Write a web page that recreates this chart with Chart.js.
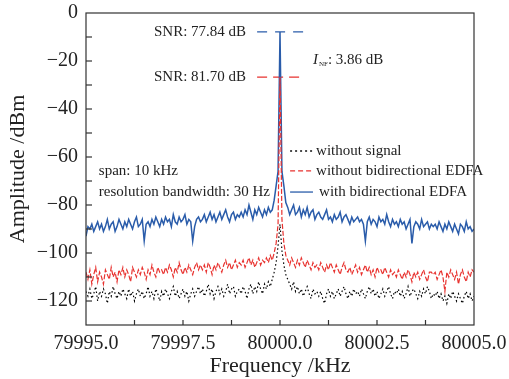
<!DOCTYPE html>
<html>
<head>
<meta charset="utf-8">
<script src="https://cdn.jsdelivr.net/npm/chart.js@4.4.1/dist/chart.umd.min.js"></script>
<style>
html, body { margin: 0; padding: 0; background: #fff; }
#wrap { width: 509px; height: 379px; }
</style>
</head>
<body>
<div id="wrap"><canvas id="myChart"></canvas></div>
<script>
// sweep grid: 79995.00 ... 80005.00 kHz, 0.05 kHz per sample
var fStart = 79995.0, fStep = 0.05;

var noSignal = [
  -116, -118, -115, -119, -117, -114, -120, -116, -118, -115, -117, -121, -116, -118, -114, -117, -119, -116, -118, -115,
  -117, -119, -115, -118, -116, -120, -117, -115, -118, -116, -119, -117, -114, -118, -116, -119, -115, -117, -120, -116,
  -118, -115, -117, -119, -116, -114, -118, -116, -119, -117, -115, -118, -116, -120, -117, -115, -118, -116, -114, -117,
  -115, -118, -116, -113, -117, -115, -119, -116, -114, -117, -115, -118, -116, -113, -117, -115, -114, -118, -116, -115,
  -117, -114, -116, -119, -115, -113, -117, -114, -116, -112, -115, -117, -113, -115, -112, -114, -111, -108, -104, -97,
  -88, -99, -105, -109, -111, -113, -115, -112, -116, -114, -117, -115, -118, -116, -114, -117, -119, -115, -117, -116,
  -118, -116, -119, -121, -117, -115, -118, -116, -119, -117, -115, -118, -116, -114, -117, -119, -116, -118, -115, -117,
  -116, -118, -115, -117, -119, -116, -114, -117, -115, -118, -116, -119, -117, -115, -118, -116, -114, -117, -119, -116,
  -117, -115, -118, -116, -119, -117, -114, -118, -116, -115, -117, -119, -116, -118, -115, -117, -114, -116, -119, -117,
  -118, -116, -119, -117, -120, -118, -121, -117, -119, -116, -118, -120, -117, -119, -121, -118, -116, -119, -117, -120,
  -118
];

var withoutEdfa = [
  -108, -111, -107, -113, -109, -106, -112, -108, -110, -113, -107, -109, -111, -106, -110, -108, -112, -107, -109, -106,
  -110, -107, -109, -112, -106, -108, -110, -107, -109, -106, -108, -111, -107, -109, -105, -108, -110, -106, -108, -107,
  -109, -106, -108, -105, -107, -110, -106, -108, -104, -107, -109, -106, -108, -105, -107, -109, -106, -104, -107, -105,
  -107, -105, -108, -104, -106, -109, -105, -107, -104, -106, -108, -105, -103, -106, -104, -107, -105, -103, -106, -104,
  -105, -103, -106, -104, -102, -105, -103, -106, -104, -102, -105, -103, -104, -102, -104, -101, -103, -100, -96, -88,
  -26.7, -86, -96, -101, -103, -105, -102, -104, -106, -103, -105, -102, -104, -106, -103, -105, -107, -104, -106, -105,
  -107, -104, -106, -108, -105, -107, -104, -106, -108, -105, -107, -109, -106, -104, -107, -108, -106, -109, -107, -105,
  -108, -106, -109, -107, -105, -108, -106, -109, -107, -110, -106, -108, -107, -109, -106, -108, -110, -107, -109, -108,
  -110, -107, -109, -111, -108, -110, -107, -109, -112, -108, -110, -108, -111, -109, -107, -110, -112, -108, -108, -109,
  -108, -111, -109, -107, -110, -116, -108, -110, -107, -109, -111, -108, -113, -109, -107, -110, -112, -108, -110, -107,
  -108
];

var withEdfa = [
  -93, -89, -90, -88, -91, -89, -87, -90, -88, -91, -89, -86, -90, -88, -87, -91, -89, -86, -88, -90,
  -87, -89, -86, -88, -90, -87, -85, -89, -88, -86, -95, -88, -87, -89, -86, -88, -85, -87, -89, -86,
  -88, -85, -87, -86, -89, -84, -87, -88, -85, -87, -86, -84, -88, -86, -87, -95, -89, -86, -85, -87,
  -86, -84, -87, -85, -83, -86, -84, -87, -85, -83, -86, -84, -82, -85, -87, -84, -83, -86, -84, -85,
  -83, -85, -82, -84, -80, -83, -86, -82, -84, -81, -83, -85, -82, -84, -81, -83, -82, -78, -72, -66,
  -7.9, -66, -72, -79, -81, -84, -82, -80, -84, -83, -81, -85, -82, -84, -81, -85, -83, -82, -86, -84,
  -83, -85, -86, -84, -82, -86, -85, -87, -84, -86, -85, -83, -87, -85, -84, -86, -88, -85, -87, -86,
  -85, -87, -86, -88, -95, -87, -85, -88, -86, -87, -89, -85, -87, -86, -88, -84, -87, -89, -86, -88,
  -87, -89, -86, -88, -87, -90, -88, -86, -96, -89, -87, -88, -90, -86, -89, -88, -87, -90, -88, -89,
  -88, -90, -87, -89, -91, -88, -90, -87, -89, -91, -88, -90, -92, -88, -89, -91, -87, -90, -89, -91,
  -90
];

// SNR reference marks
var snrLineX = [79999.41, 80000.64];
var snrWith = -7.9;
var snrWithout = -26.7;

var serif = '"Liberation Serif", "Times New Roman", serif';
var blue = '#2a5caa';
var red = '#e8322f';

function toPoints(vals) {
  return vals.map(function (v, i) { return { x: fStart + i * fStep, y: v }; });
}
function flat(y) {
  return snrLineX.map(function (x) { return { x: x, y: y }; });
}

var overlay = {
  id: 'overlay',
  afterDraw: function (chart) {
    var c = chart.ctx, a = chart.chartArea, xs = chart.scales.x, ys = chart.scales.y;
    function seg(x1, y1, x2, y2) { c.beginPath(); c.moveTo(x1, y1); c.lineTo(x2, y2); c.stroke(); }
    c.save();
    c.strokeStyle = '#333';
    c.lineWidth = 1.2;
    c.strokeRect(a.left, a.top, a.right - a.left, a.bottom - a.top);
    for (var v = -10; v > -130; v -= 10) {
      var py = ys.getPixelForValue(v);
      seg(a.left, py, a.left + 6, py);
    }
    for (var f = 79996.25; f < 80005; f += 1.25) {
      var px = xs.getPixelForValue(f);
      seg(px, a.bottom, px, a.bottom - 5);
    }

    c.fillStyle = '#222';
    c.font = '15px ' + serif;
    c.textBaseline = 'middle';
    c.textAlign = 'right';
    var lx = xs.getPixelForValue(snrLineX[0]) - 11;
    c.fillText('SNR: 77.84 dB', lx, ys.getPixelForValue(snrWith));
    c.fillText('SNR: 81.70 dB', lx, ys.getPixelForValue(snrWithout));

    c.textAlign = 'left';
    var ix = xs.getPixelForValue(80000.85), iy = ys.getPixelForValue(-19.6);
    c.font = 'italic 15px ' + serif;
    c.fillText('I', ix, iy);
    var w = c.measureText('I').width;
    c.font = '7px ' + serif;
    c.fillText('NF', ix + w + 1, iy + 4);
    var w2 = c.measureText('NF').width;
    c.font = '15px ' + serif;
    c.fillText(': 3.86 dB', ix + w + w2 + 1, iy);

    var sx = xs.getPixelForValue(79995.33);
    c.fillText('span: 10 kHz', sx, ys.getPixelForValue(-65.8));
    c.fillText('resolution bandwidth: 30 Hz', sx, ys.getPixelForValue(-74.6));

    // legend
    var x1 = xs.getPixelForValue(80000.26), x2 = xs.getPixelForValue(80000.85);
    var tx = xs.getPixelForValue(80000.93);
    var rows = [
      { y: -57.5, color: '#111', dash: [2, 3], text: 'without signal', dx: 0 },
      { y: -65.8, color: red, dash: [5, 3], text: 'without bidirectional EDFA', dx: 0 },
      { y: -74.6, color: blue, dash: [], text: 'with bidirectional EDFA', dx: 3 }
    ];
    rows.forEach(function (r) {
      var py = ys.getPixelForValue(r.y);
      c.strokeStyle = r.color;
      c.lineWidth = 1.3;
      c.setLineDash(r.dash);
      seg(x1, py, x2, py);
      c.setLineDash([]);
      c.fillStyle = '#222';
      c.fillText(r.text, tx + r.dx, py);
    });
    c.restore();
  }
};

var ctx = document.getElementById('myChart').getContext('2d');
var myChart = new Chart(ctx, {
  type: 'line',
  data: {
    datasets: [
      { label: 'without signal', data: toPoints(noSignal), borderColor: '#000', borderWidth: 1.2, borderDash: [1.5, 2.5] },
      { label: 'without bidirectional EDFA', data: toPoints(withoutEdfa), borderColor: red, borderWidth: 1.2, borderDash: [5, 2] },
      { label: 'with bidirectional EDFA', data: toPoints(withEdfa), borderColor: blue, borderWidth: 1.5 },
      { label: 'snr with', data: flat(snrWith), borderColor: blue, borderWidth: 1.3, borderDash: [10, 8] },
      { label: 'snr without', data: flat(snrWithout), borderColor: red, borderWidth: 1.3, borderDash: [10, 6] }
    ]
  },
  options: {
    responsive: true,
    maintainAspectRatio: false,
    animation: false,
    layout: { padding: { top: 13, right: 35, left: 0, bottom: 0 } },
    elements: { point: { radius: 0 }, line: { tension: 0 } },
    plugins: { legend: { display: false }, tooltip: { enabled: false } },
    scales: {
      x: {
        type: 'linear',
        min: 79995,
        max: 80005,
        grid: { display: false, drawTicks: false },
        border: { display: false },
        ticks: {
          stepSize: 2.5,
          padding: 7,
          color: '#222',
          font: { family: serif, size: 20 },
          maxRotation: 0,
          callback: function (v) { return v.toFixed(1); }
        },
        title: {
          display: true,
          text: 'Frequency /kHz',
          color: '#222',
          font: { family: serif, size: 22 },
          padding: { top: 0, bottom: 0 }
        },
        afterFit: function (s) { s.height = 54; s.paddingLeft = 0; s.paddingRight = 0; }
      },
      y: {
        min: -130,
        max: 0,
        grid: { display: false, drawTicks: false },
        border: { display: false },
        ticks: {
          stepSize: 20,
          includeBounds: false,
          padding: 8,
          color: '#222',
          font: { family: serif, size: 20 },
          callback: function (v) {
            if (v % 20 !== 0) return null;
            return v < 0 ? '\u2212' + Math.abs(v) : String(v);
          }
        },
        title: {
          display: true,
          text: 'Amplitude /dBm',
          color: '#222',
          font: { family: serif, size: 22 },
          padding: { top: 5, bottom: 0 }
        },
        afterFit: function (s) { s.width = 86; s.paddingTop = 0; s.paddingBottom = 0; }
      }
    }
  },
  plugins: [overlay]
});
</script>
</body>
</html>
